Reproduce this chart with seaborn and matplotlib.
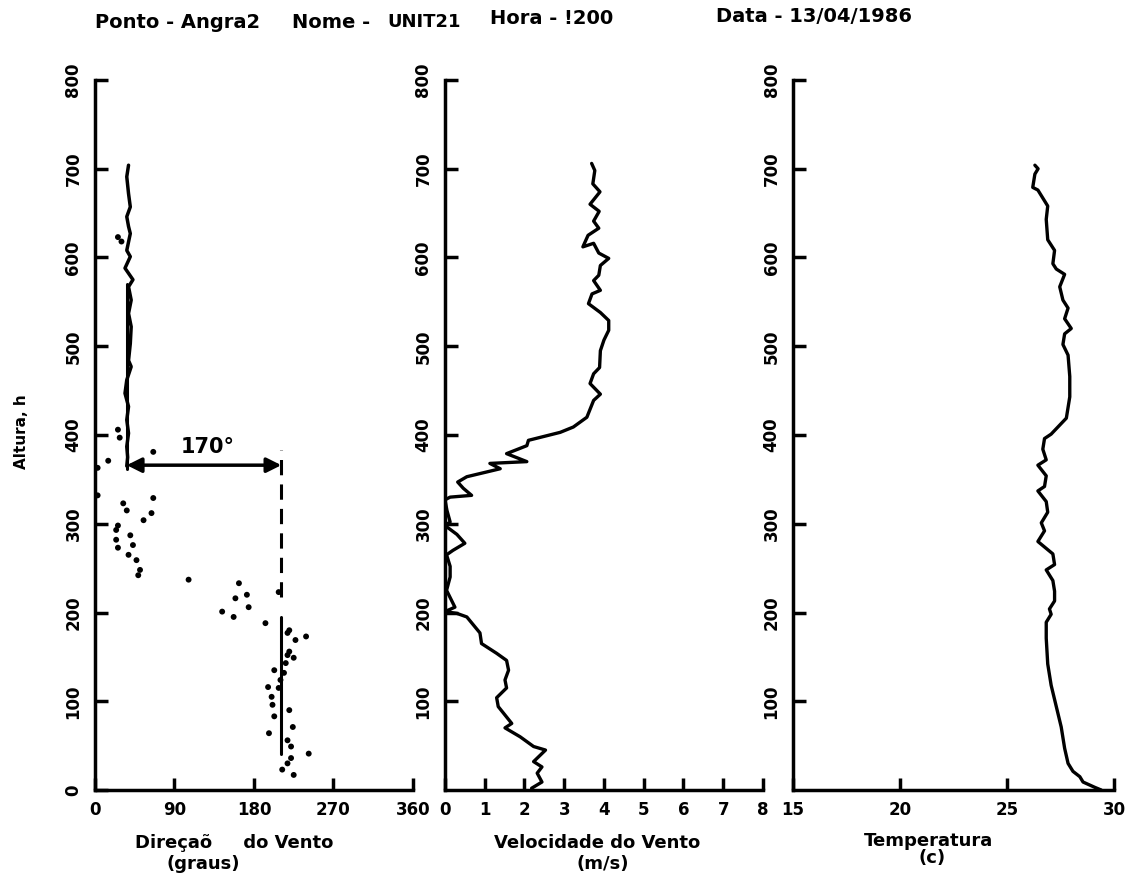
import numpy as np
import pandas as pd
import matplotlib.pyplot as plt
import seaborn as sns

sns.set_style("ticks")
plt.rcParams['font.family'] = ['DejaVu Sans']
plt.rcParams['font.weight'] = 'bold'
plt.rcParams['text.color'] = 'black'
plt.rcParams['axes.labelcolor'] = 'black'
plt.rcParams['xtick.color'] = 'black'
plt.rcParams['ytick.color'] = 'black'

# ---------------- DATA ----------------

# direcao do vento - pontos dispersos (altura m, graus)
dir_alt = [332, 363, 371, 381, 323, 315, 329, 312, 304, 298, 293, 287, 282, 276,
           273, 265, 259, 248, 242, 237, 233, 216, 220, 206, 201, 195, 188, 223,
           180, 177, 173, 169, 156, 152, 149, 143, 135, 132, 124, 115, 116, 105,
           96, 90, 83, 71, 64, 56, 49, 41, 36, 30, 23, 17, 623, 618, 406, 397]
dir_graus = [3, 3, 15, 66, 32, 36, 66, 64, 55, 26, 24, 40, 24, 43,
             26, 38, 47, 51, 49, 106, 163, 159, 172, 174, 144, 157, 193, 208,
             220, 218, 239, 227, 220, 218, 225, 216, 203, 214, 210, 208, 196, 200,
             201, 220, 203, 224, 197, 218, 222, 242, 222, 218, 212, 225, 26, 30, 26, 28]

# trecho superior quase continuo
dir_sup_alt = [704, 691, 672, 657, 646, 635, 627, 608, 601, 588, 575, 567, 552,
               537, 522, 503, 484, 477, 462, 447, 432, 417, 402, 387, 375, 365]
dir_sup_graus = [38, 36, 38, 40, 36, 38, 40, 36, 40, 34, 43, 38, 41,
                 38, 41, 40, 38, 41, 36, 34, 38, 36, 38, 36, 37, 36]

# medias e diferenca indicada
dir_media_sup = 36
dir_media_inf = 211
seta_alt = 366
rotulo_giro = "170°"

# velocidade do vento (altura m, m/s)
vel_alt = [706, 698, 683, 674, 660, 652, 641, 633, 625, 612, 616, 605, 599, 591,
           580, 574, 563, 559, 548, 538, 529, 518, 507, 495, 476, 469, 458, 446,
           439, 420, 409, 403, 394, 388, 379, 370, 368, 362, 353, 347, 340, 332,
           330, 327, 315, 302, 298, 288, 278, 270, 265, 252, 240, 225, 206, 201,
           199, 195, 177, 165, 154, 146, 135, 124, 115, 104, 94, 75, 70, 60,
           49, 45, 32, 26, 19, 9, 2]
vel_ms = [3.69, 3.77, 3.72, 3.90, 3.65, 3.88, 3.74, 3.87, 3.60, 3.47, 3.74, 3.87, 4.12, 3.91,
          3.87, 3.74, 3.91, 3.70, 3.61, 3.91, 4.12, 4.12, 4.00, 3.91, 3.89, 3.74, 3.65, 3.91,
          3.74, 3.57, 3.23, 2.90, 2.10, 2.06, 1.55, 2.06, 1.13, 1.39, 0.55, 0.32, 0.46, 0.67,
          0.13, 0.00, 0.05, 0.13, 0.00, 0.30, 0.50, 0.20, 0.04, 0.13, 0.13, 0.04, 0.25, 0.00,
          0.30, 0.55, 0.88, 0.92, 1.30, 1.55, 1.60, 1.51, 1.55, 1.30, 1.34, 1.68, 1.51, 1.89,
          2.23, 2.53, 2.23, 2.44, 2.32, 2.44, 2.18]

# temperatura (altura m, graus C)
temp_alt = [704, 700, 694, 679, 676, 658, 643, 620, 608, 593, 587, 581, 567, 552,
            543, 531, 520, 514, 502, 490, 466, 443, 419, 401, 396, 384, 372, 366,
            354, 342, 337, 325, 313, 301, 292, 280, 266, 254, 248, 236, 224, 213,
            204, 198, 189, 171, 142, 118, 94, 71, 47, 30, 21, 15, 9, 3, 0]
temp_c = [26.30, 26.45, 26.30, 26.20, 26.44, 26.90, 26.83, 26.90, 27.22, 27.14, 27.30, 27.69, 27.46, 27.61,
          27.85, 27.69, 28.00, 27.69, 27.61, 27.85, 27.93, 27.93, 27.77, 27.06, 26.75, 26.67, 26.83, 26.44,
          26.83, 26.75, 26.44, 26.83, 26.90, 26.60, 26.75, 26.44, 27.14, 27.22, 26.83, 27.14, 27.22, 27.22,
          26.98, 27.06, 26.83, 26.83, 26.90, 27.06, 27.30, 27.53, 27.69, 27.85, 28.08, 28.40, 28.55, 29.10, 29.40]

df_dir = pd.DataFrame({'alt': dir_alt, 'graus': dir_graus})
df_sup = pd.DataFrame({'alt': dir_sup_alt, 'graus': dir_sup_graus})
df_vel = pd.DataFrame({'alt': vel_alt, 'vel': vel_ms})
df_temp = pd.DataFrame({'alt': temp_alt, 'temp': temp_c})

# ---------------- FIGURE ----------------

fig = plt.figure(figsize=(11.36, 8.82), dpi=100)
ax1 = fig.add_axes([0.0836, 0.1043, 0.2799, 0.805])
ax2 = fig.add_axes([0.3917, 0.1043, 0.2799, 0.805])
ax3 = fig.add_axes([0.6981, 0.1043, 0.2826, 0.805])


def estilo(ax, xlim, xticks, yticks):
    ax.set_xlim(*xlim)
    ax.set_ylim(0, 800)
    ax.set_xticks(xticks)
    ax.set_yticks(yticks)
    sns.despine(ax=ax)
    for s in ['left', 'bottom']:
        ax.spines[s].set_linewidth(2.5)
        ax.spines[s].set_color('black')
    ax.tick_params(direction='in', length=9, width=2.5, labelsize=12, colors='black')
    ax.tick_params(axis='y', labelrotation=90, pad=9)
    ax.tick_params(axis='x', pad=8)
    plt.setp(ax.get_yticklabels(), va='center')
    ax.set_xlabel('')
    ax.set_ylabel('')


# painel 1 - direcao
sns.scatterplot(data=df_dir, x='graus', y='alt', ax=ax1, color='black', s=18,
                edgecolor='none', clip_on=False)
sns.lineplot(data=df_sup, x='graus', y='alt', ax=ax1, color='black', lw=2.5,
             sort=False, estimator=None)
ax1.plot([dir_media_sup, dir_media_sup], [seta_alt - 4, 570], color='black', lw=2.2)
ax1.plot([dir_media_inf, dir_media_inf], [218, seta_alt + 17], color='black', lw=2.2,
         linestyle=(0, (5, 3)))
ax1.plot([dir_media_inf, dir_media_inf], [41, 195], color='black', lw=2.2)
ax1.annotate('', xy=(dir_media_inf, seta_alt), xytext=(dir_media_sup, seta_alt),
             arrowprops=dict(arrowstyle='<|-|>', color='black', lw=2.5, mutation_scale=22,
                             shrinkA=0, shrinkB=0))
ax1.text(128, 386, rotulo_giro, ha='center', va='center', fontsize=15)
estilo(ax1, (0, 360), [0, 90, 180, 270, 360], range(0, 801, 100))

# painel 2 - velocidade
sns.lineplot(data=df_vel, x='vel', y='alt', ax=ax2, color='black', lw=2.4,
             sort=False, estimator=None)
estilo(ax2, (0, 8), range(0, 9), range(100, 801, 100))

# painel 3 - temperatura
sns.lineplot(data=df_temp, x='temp', y='alt', ax=ax3, color='black', lw=2.4,
             sort=False, estimator=None)
estilo(ax3, (15, 30), [15, 20, 25, 30], range(100, 801, 100))

# ---------------- TEXTS ----------------

fig.text(95 / 1136, 1 - 22 / 882, "Ponto - Angra2", fontsize=14, va='center')
fig.text(292 / 1136, 1 - 22 / 882, "Nome -", fontsize=14, va='center')
fig.text(387 / 1136, 1 - 22 / 882, "UNIT21", fontsize=13, va='center')
fig.text(490 / 1136, 1 - 18 / 882, "Hora - !200", fontsize=14, va='center')
fig.text(716 / 1136, 1 - 16 / 882, "Data - 13/04/1986", fontsize=14, va='center')

fig.text(22 / 1136, 1 - 432 / 882, "Altura, h", fontsize=11, rotation=90,
         ha='center', va='center')

fig.text(234 / 1136, 1 - 843 / 882, "Direçaõ     do Vento", fontsize=13, ha='center', va='center')
fig.text(203 / 1136, 1 - 864 / 882, "(graus)", fontsize=13, ha='center', va='center')
fig.text(597 / 1136, 1 - 843 / 882, "Velocidade do Vento", fontsize=13, ha='center', va='center')
fig.text(603 / 1136, 1 - 864 / 882, "(m/s)", fontsize=13, ha='center', va='center')
fig.text(929 / 1136, 1 - 841 / 882, "Temperatura", fontsize=13, ha='center', va='center')
fig.text(932 / 1136, 1 - 858 / 882, "(c)", fontsize=13, ha='center', va='center')

fig.savefig("out.png", dpi=100)
